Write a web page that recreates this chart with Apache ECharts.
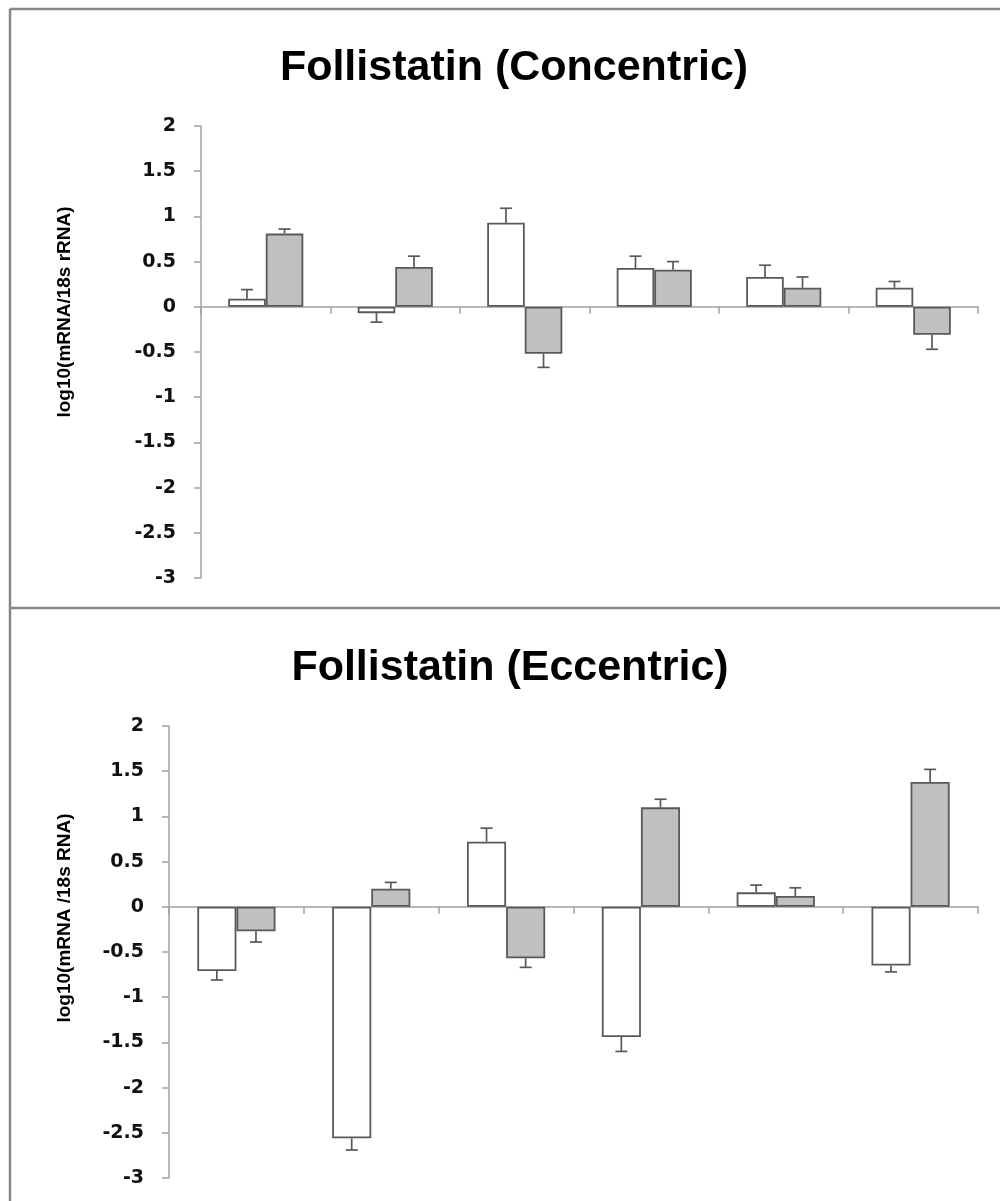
<!doctype html>
<html>

	<head>
		<meta charset="UTF-8">
		<title>Follistatin</title>
		<script src="https://cdn.jsdelivr.net/npm/echarts/dist/echarts.min.js"></script>
		<style>
			html, body {
				margin: 0;
				padding: 0;
				background: #FFFFFF;
			}
			#chart {
				width: 1000px;
				height: 1201px;
			}
		</style>
	</head>

	<body>
		<div id="chart"></div>

		<script type="text/javascript">
			// 六组，没有类别标签
			var categories = ['1', '2', '3', '4', '5', '6'];

			// Concentric
			var concWhite = [0.09, -0.07, 0.93, 0.43, 0.33, 0.21];
			var concWhiteErr = [0.10, 0.10, 0.16, 0.13, 0.13, 0.07];
			var concGrey = [0.81, 0.44, -0.52, 0.41, 0.21, -0.31];
			var concGreyErr = [0.05, 0.12, 0.15, 0.09, 0.12, 0.16];

			// Eccentric
			var eccWhite = [-0.71, -2.56, 0.72, -1.44, 0.16, -0.65];
			var eccWhiteErr = [0.10, 0.13, 0.15, 0.16, 0.08, 0.07];
			var eccGrey = [-0.27, 0.20, -0.57, 1.10, 0.12, 1.38];
			var eccGreyErr = [0.12, 0.07, 0.10, 0.09, 0.09, 0.14];

			var yTicks = { min: -3, max: 2, step: 0.5 };

			var axisColor = '#a0a0a0';
			var edgeColor = '#595959';
			var catGap = 0.42;

			function errData(vals, errs) {
				var arr = [];
				for(var i = 0; i < vals.length; i++) {
					arr.push([i, vals[i], errs[i]]);
				}
				return arr;
			}

			// 误差线：只画离开零点的一侧
			function errRender(side) {
				return function(params, api) {
					var ci = api.value(0);
					var v = api.value(1);
					var e = api.value(2);
					var band = api.size([1, 0])[0];
					var bw = band * (1 - catGap) / 2;
					var x = api.coord([ci, 0])[0] + side * bw / 2;
					var end = v >= 0 ? v + e : v - e;
					var y0 = api.coord([ci, v])[1];
					var y1 = api.coord([ci, end])[1];
					var st = { stroke: edgeColor, lineWidth: 1.7 };
					return {
						type: 'group',
						children: [{
							type: 'line',
							shape: { x1: x, y1: y0, x2: x, y2: y1 },
							style: st
						}, {
							type: 'line',
							shape: { x1: x - 6, y1: y1, x2: x + 6, y2: y1 },
							style: st
						}]
					};
				};
			}

			function xAxisCfg(gi) {
				return {
					type: 'category',
					gridIndex: gi,
					data: categories,
					axisLine: { onZero: true, lineStyle: { color: axisColor, width: 1.5 } },
					axisTick: { show: true, length: 7, lineStyle: { color: axisColor, width: 1.5 } },
					axisLabel: { show: false },
					splitLine: { show: false }
				};
			}

			function yAxisCfg(gi) {
				return {
					type: 'value',
					gridIndex: gi,
					min: yTicks.min,
					max: yTicks.max,
					interval: yTicks.step,
					axisLine: { show: true, lineStyle: { color: axisColor, width: 1.5 } },
					axisTick: { show: true, length: 7, lineStyle: { color: axisColor, width: 1.5 } },
					axisLabel: {
						margin: 25,
						color: '#111111',
						fontFamily: 'DejaVu Sans',
						fontWeight: 'bold',
						fontSize: 19
					},
					splitLine: { show: false }
				};
			}

			function barCfg(gi, vals, fill) {
				return {
					type: 'bar',
					xAxisIndex: gi,
					yAxisIndex: gi,
					data: vals,
					barGap: '0%',
					barCategoryGap: (catGap * 100) + '%',
					itemStyle: { color: fill, borderColor: edgeColor, borderWidth: 1.8 },
					silent: true
				};
			}

			function errCfg(gi, vals, errs, side) {
				return {
					type: 'custom',
					xAxisIndex: gi,
					yAxisIndex: gi,
					data: errData(vals, errs),
					encode: { x: 0, y: 1 },
					renderItem: errRender(side),
					z: 5,
					silent: true
				};
			}

			var titleFont = { fontFamily: 'Liberation Sans', fontWeight: 'bold', fontSize: 43, fill: '#000000' };
			var nameFont = { fontFamily: 'Liberation Sans', fontWeight: 'bold', fontSize: 19, fill: '#000000' };

			var option = {
				backgroundColor: '#FFFFFF',
				animation: false,
				grid: [{
					left: 201,
					top: 126,
					width: 777,
					height: 452
				}, {
					left: 169,
					top: 726,
					width: 809,
					height: 452
				}],
				xAxis: [xAxisCfg(0), xAxisCfg(1)],
				yAxis: [yAxisCfg(0), yAxisCfg(1)],
				series: [
					barCfg(0, concWhite, '#FFFFFF'),
					barCfg(0, concGrey, '#C0C0C0'),
					errCfg(0, concWhite, concWhiteErr, -1),
					errCfg(0, concGrey, concGreyErr, 1),
					barCfg(1, eccWhite, '#FFFFFF'),
					barCfg(1, eccGrey, '#C0C0C0'),
					errCfg(1, eccWhite, eccWhiteErr, -1),
					errCfg(1, eccGrey, eccGreyErr, 1)
				],
				graphic: [
					// 边框
					{ type: 'line', shape: { x1: 10, y1: 9, x2: 1000, y2: 9 }, style: { stroke: '#888888', lineWidth: 2.5 } },
					{ type: 'line', shape: { x1: 10, y1: 9, x2: 10, y2: 1201 }, style: { stroke: '#888888', lineWidth: 2.5 } },
					{ type: 'line', shape: { x1: 10, y1: 608, x2: 1000, y2: 608 }, style: { stroke: '#888888', lineWidth: 2.5 } },
					// 标题
					{ type: 'text', x: 514, y: 68, style: Object.assign({ text: 'Follistatin (Concentric)', align: 'center', verticalAlign: 'middle' }, titleFont) },
					{ type: 'text', x: 510, y: 668, style: Object.assign({ text: 'Follistatin (Eccentric)', align: 'center', verticalAlign: 'middle' }, titleFont) },
					// y轴名称
					{ type: 'text', x: 65, y: 312, rotation: Math.PI / 2, style: Object.assign({ text: 'log10(mRNA/18s rRNA)', align: 'center', verticalAlign: 'middle' }, nameFont) },
					{ type: 'text', x: 65, y: 918, rotation: Math.PI / 2, style: Object.assign({ text: 'log10(mRNA /18s RNA)', align: 'center', verticalAlign: 'middle' }, nameFont) }
				]
			};

			var chart = echarts.init(document.getElementById('chart'));
			chart.setOption(option);
		</script>
	</body>

</html>
